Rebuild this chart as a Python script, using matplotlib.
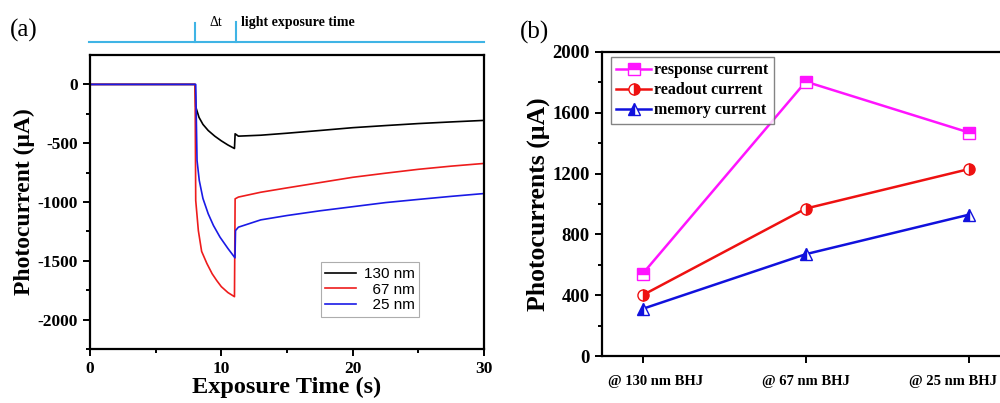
""" Photocurrent transients under illumination (a) and the extracted
response / readout / memory currents for each BHJ thickness (b). """

import matplotlib
matplotlib.use('Agg')
import matplotlib.pyplot as plt
import matplotlib.transforms as mtransforms

plt.rcParams['axes.unicode_minus'] = False

SERIF = ['Liberation Serif', 'DejaVu Serif']
SANS = ['Liberation Sans', 'DejaVu Sans']

# (a) transient photocurrent, digitised time (s) / current (uA)
t_130 = [0, 8.0, 8.05, 8.3, 8.6, 9.0, 9.5, 10.0, 10.5, 11.0, 11.05, 11.3,
         13, 15, 17.5, 20, 22.5, 25, 27.5, 30]
i_130 = [0, 0, -190, -280, -340, -392, -440, -480, -515, -545, -420, -440,
         -432, -415, -392, -368, -350, -333, -319, -306]

t_67 = [0, 8.0, 8.05, 8.25, 8.5, 8.9, 9.3, 9.65, 10.0, 10.5, 11.0, 11.05,
        11.3, 13, 15, 17.5, 20, 22.5, 25, 27.5, 30]
i_67 = [0, 0, -987, -1243, -1420, -1523, -1610, -1668, -1720, -1770, -1805,
        -973, -958, -917, -880, -835, -790, -755, -722, -695, -672]

t_25 = [0, 8.05, 8.15, 8.32, 8.6, 9.0, 9.4, 9.9, 10.5, 11.04, 11.08, 11.3,
        13, 15, 17.5, 20, 22.5, 25, 27.5, 30]
i_25 = [0, 0, -647, -817, -970, -1100, -1200, -1299, -1395, -1475, -1243,
        -1214, -1152, -1115, -1075, -1040, -1005, -978, -952, -928]

t_on, t_off = 8.0, 11.1

# (b) currents per film thickness (uA)
devices = ['@ 130 nm BHJ', '@ 67 nm BHJ', '@ 25 nm BHJ']
response = [540, 1805, 1470]
readout = [400, 970, 1230]
memory = [310, 670, 930]

fig = plt.figure(figsize=(10, 4.03), dpi=100)

# ---- panel (a)
ax1 = fig.add_axes([0.09, 0.134, 0.394, 0.7295])
ax1.plot(t_130, i_130, c='black', lw=1.2, label='130 nm')
ax1.plot(t_67, i_67, c='#ee1c1c', lw=1.2, label='  67 nm')
ax1.plot(t_25, i_25, c='#1a1ae6', lw=1.2, label='  25 nm')
ax1.set_xlim(0, 30)
ax1.set_ylim(-2250, 250)
ax1.set_xticks([0, 10, 20, 30])
ax1.set_xticks([5, 15, 25], minor=True)
ax1.set_yticks([0, -500, -1000, -1500, -2000])
ax1.set_yticks([-250, -750, -1250, -1750, -2250], minor=True)
ax1.set_xlabel('Exposure Time (s)', family=SERIF, weight='bold',
               fontsize=17.5, labelpad=0)
ax1.set_ylabel('Photocurrent (\u03bcA)', family=SERIF, weight='bold',
               fontsize=17, labelpad=2)
leg = ax1.legend(loc='lower right', bbox_to_anchor=(0.835, 0.11),
                 prop={'family': SANS, 'size': 11}, frameon=True,
                 fancybox=False, edgecolor='#999999', handlelength=2.0,
                 borderpad=0.3, labelspacing=0.1, handletextpad=0.5,
                 borderaxespad=0)
leg.get_frame().set_linewidth(0.8)

# light-on / light-off marker above panel (a)
trans = mtransforms.blended_transform_factory(ax1.transData, fig.transFigure)
cyan = '#3fb4e5'
ax1.plot([-0.05, 30], [0.896, 0.896], c=cyan, lw=1.5, transform=trans,
         clip_on=False)
ax1.plot([t_on, t_on], [0.896, 0.942], c=cyan, lw=1.5, transform=trans,
         clip_on=False)
ax1.plot([t_off, t_off], [0.896, 0.945], c=cyan, lw=1.5, transform=trans,
         clip_on=False)
ax1.text((t_on + t_off) / 2, 0.945, '\u0394t', transform=trans,
         family=SERIF, fontsize=10, ha='center', va='center')
ax1.text(t_off + 0.4, 0.945, 'light exposure time', transform=trans,
         family=SERIF, weight='bold', fontsize=10, ha='left', va='center')
fig.text(0.01, 0.925, '(a)', family=SERIF, fontsize=18, va='center')

# ---- panel (b)
ax2 = fig.add_axes([0.6017, 0.1166, 0.4033, 0.7544])
x = range(len(devices))
mk = dict(ms=8, mew=1.0, markerfacecoloralt='white', lw=1.8)
ax2.plot(x, response, c='#ff14ff', marker='s', fillstyle='top',
         label='response current', **mk)
ax2.plot(x, readout, c='#ee1111', marker='o', fillstyle='right',
         label='readout current', **mk)
ax2.plot(x, memory, c='#1111dd', marker='^', fillstyle='left',
         label='memory current', **mk)
ax2.set_xlim(-0.25, 2.22)
ax2.set_ylim(0, 2000)
ax2.set_xticks(list(x))
ax2.set_xticklabels(devices, family=SERIF, weight='bold', fontsize=10.5)
ax2.set_yticks(range(0, 2001, 400))
ax2.set_yticks(range(200, 2000, 400), minor=True)
ax2.set_ylabel('Photocurrents (\u03bcA)', family=SERIF, weight='bold',
               fontsize=18.5, labelpad=2)
leg2 = ax2.legend(loc='upper left', bbox_to_anchor=(0.022, 0.985),
                  prop={'family': SERIF, 'weight': 'bold', 'size': 11.5},
                  fancybox=False, edgecolor='#666666', handlelength=2.2,
                  borderpad=0.35, labelspacing=0.25, handletextpad=0.15,
                  borderaxespad=0)
leg2.get_frame().set_linewidth(1.0)
fig.text(0.52, 0.92, '(b)', family=SERIF, fontsize=18, va='center')

for ax in (ax1, ax2):
    for s in ax.spines.values():
        s.set_linewidth(1.6)
    ax.tick_params(which='both', direction='out', width=1.4)
    ax.tick_params(which='major', length=5)
    ax.tick_params(which='minor', length=3)
for lab in ax1.get_yticklabels() + ax1.get_xticklabels():
    lab.set_family(SERIF)
    lab.set_weight('bold')
    lab.set_fontsize(12.5)
for lab in ax2.get_yticklabels():
    lab.set_family(SERIF)
    lab.set_weight('bold')
    lab.set_fontsize(13.5)
ax2.tick_params(axis='x', which='major', pad=9)

# nudge the outer category labels inwards so they stay on the canvas
shifts = [13, 0, -16]
for lab, dx in zip(ax2.get_xticklabels(), shifts):
    lab.set_transform(lab.get_transform() +
                      mtransforms.ScaledTranslation(dx / 100, 0,
                                                    fig.dpi_scale_trans))

fig.savefig('out.png', dpi=100)
